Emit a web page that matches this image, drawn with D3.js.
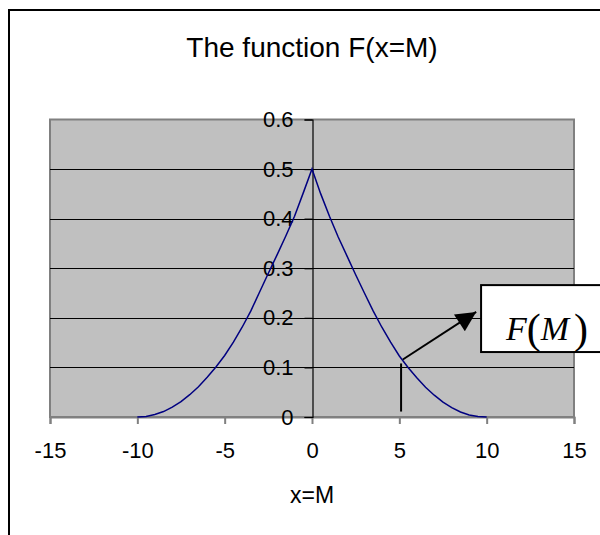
<!DOCTYPE html>
<html>
<head>
<meta charset="utf-8">
<script src="https://cdn.jsdelivr.net/npm/d3@7"></script>
<style>
  body { margin: 0; background: #fff; }
  svg { display: block; font-family: Arial, "Liberation Sans", sans-serif; }
</style>
</head>
<body>
<svg id="chart" width="600" height="535"></svg>
<script>
// values
const mValues = [-10, -9.5, -9, -8.5, -8, -7.5, -7, -6.5, -6, -5.5, -5, -4.5, -4, -3.5, -3, -2.5, -2, -1.5, -1, -0.5, 0,
                 0.5, 1, 1.5, 2, 2.5, 3, 3.5, 4, 4.5, 5, 5.5, 6, 6.5, 7, 7.5, 8, 8.5, 9, 9.5, 10];
const fValues = [0, 0.001, 0.005, 0.011, 0.02, 0.031, 0.045, 0.061, 0.08, 0.101, 0.124, 0.151, 0.181, 0.214, 0.252, 0.29, 0.327, 0.365, 0.405, 0.452, 0.5,
                 0.45, 0.405, 0.363, 0.325, 0.287, 0.25, 0.214, 0.181, 0.151, 0.123, 0.1, 0.079, 0.06, 0.044, 0.03, 0.019, 0.01, 0.004, 0.001, 0];
const xTicks = [-15, -10, -5, 0, 5, 10, 15];
const yTicks = [0, 0.1, 0.2, 0.3, 0.4, 0.5, 0.6];
const titleText = "The function F(x=M)";
const xTitle = "x=M";

const svg = d3.select("#chart");
const plot = { left: 50, right: 574, top: 119.5, bottom: 417 };
const sans = "Arial, 'Liberation Sans', sans-serif";

const x = d3.scaleLinear().domain([-15, 15]).range([plot.left, plot.right]);
const y = d3.scaleLinear().domain([0, 0.6]).range([plot.bottom, plot.top]);

// outer chart frame (runs off the right and bottom)
svg.append("rect")
    .attr("x", 9).attr("y", 10)
    .attr("width", 640).attr("height", 560)
    .attr("fill", "#fff")
    .attr("stroke", "#000")
    .attr("stroke-width", 2);

svg.append("text")
    .attr("x", x(0)).attr("y", 57)
    .attr("text-anchor", "middle")
    .attr("font-size", 28)
    .text(titleText);

// plot area
svg.append("rect")
    .attr("x", plot.left).attr("y", plot.top)
    .attr("width", plot.right - plot.left).attr("height", plot.bottom - plot.top)
    .attr("fill", "#c0c0c0")
    .attr("stroke", "#808080")
    .attr("stroke-width", 2);

svg.append("g")
    .selectAll("line")
    .data(yTicks.filter(d => d > 0 && d < 0.6))
    .enter().append("line")
    .attr("x1", plot.left).attr("x2", plot.right)
    .attr("y1", d => Math.round(y(d)) + 0.5).attr("y2", d => Math.round(y(d)) + 0.5)
    .attr("stroke", "#000")
    .attr("stroke-width", 1);

// x axis along the bottom
const xAxis = svg.append("g")
    .attr("transform", `translate(0,${plot.bottom})`)
    .call(d3.axisBottom(x).tickValues(xTicks).tickSize(7).tickPadding(18).tickFormat(d => String(d)));
xAxis.select(".domain").attr("stroke", "#808080").attr("stroke-width", 2);
xAxis.selectAll(".tick line").attr("stroke", "#808080").attr("stroke-width", 2);
xAxis.selectAll(".tick text").attr("font-size", 22).attr("fill", "#000").attr("font-family", sans);

// y axis crosses at x = 0
const yAxis = svg.append("g")
    .attr("transform", `translate(${Math.round(x(0)) + 0.5},0)`)
    .call(d3.axisLeft(y).tickValues(yTicks).tickSize(8).tickPadding(11).tickFormat(d => d === 0 ? "0" : d3.format(".1f")(d)));
yAxis.select(".domain").attr("stroke", "#000").attr("stroke-width", 1.2);
yAxis.selectAll(".tick line").attr("stroke", "#000").attr("stroke-width", 1.2);
yAxis.selectAll(".tick text").attr("font-size", 22).attr("fill", "#000").attr("font-family", sans);

svg.append("text")
    .attr("x", x(0)).attr("y", 503)
    .attr("text-anchor", "middle")
    .attr("font-size", 23)
    .text(xTitle);

// the curve
const line = d3.line()
    .x((d, i) => x(mValues[i]))
    .y(d => y(d));

svg.append("path")
    .datum(fValues)
    .attr("d", line)
    .attr("fill", "none")
    .attr("stroke", "#000080")
    .attr("stroke-width", 1.5);

// annotation: marker, arrow and label box
svg.append("defs").append("marker")
    .attr("id", "arrowHead")
    .attr("viewBox", "0 0 10 10")
    .attr("refX", 10).attr("refY", 5)
    .attr("markerWidth", 24).attr("markerHeight", 20)
    .attr("markerUnits", "userSpaceOnUse")
    .attr("orient", "auto")
    .append("path")
    .attr("d", "M0,0 L10,5 L0,10 Z")
    .attr("fill", "#000");

svg.append("line")
    .attr("x1", x(5.1)).attr("y1", y(0.108))
    .attr("x2", x(5.1)).attr("y2", y(0.011))
    .attr("stroke", "#000").attr("stroke-width", 2);

svg.append("line")
    .attr("x1", x(5.2)).attr("y1", y(0.116))
    .attr("x2", x(9.4)).attr("y2", y(0.212))
    .attr("stroke", "#000").attr("stroke-width", 2)
    .attr("marker-end", "url(#arrowHead)");

svg.append("rect")
    .attr("x", x(9.68)).attr("y", y(0.266))
    .attr("width", 140).attr("height", y(0.131) - y(0.266))
    .attr("fill", "#fff")
    .attr("stroke", "#000")
    .attr("stroke-width", 2);

const label = svg.append("text")
    .attr("x", x(11.1)).attr("y", y(0.156))
    .attr("font-family", "'Liberation Serif', 'DejaVu Serif', serif")
    .attr("font-size", 34);
label.append("tspan").attr("font-style", "italic").text("F");
label.append("tspan").attr("font-size", 42).attr("dy", 3).text("(");
label.append("tspan").attr("font-style", "italic").attr("dy", -3).text("M");
label.append("tspan").attr("font-size", 42).attr("dy", 3).attr("dx", 5).text(")");
</script>
</body>
</html>
